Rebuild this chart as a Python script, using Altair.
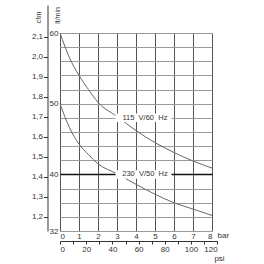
import altair as alt
import pandas as pd

# ---- data ----
bar_pts = [0, 0.5, 1, 1.5, 2, 3, 4, 5, 6, 7, 8]
flow_115 = [60, 56.5, 54.0, 52.0, 50.2, 48.2, 46.2, 44.5, 43.1, 41.9, 40.9]
flow_230 = [50, 46.6, 44.3, 42.8, 41.5, 40.1, 38.6, 37.2, 36.0, 35.1, 34.2]
series_names = ["115\u00a0 V/60\u00a0 Hz", "230\u00a0 V/50\u00a0 Hz"]
label_bar = [4.47, 4.47]
label_flow = [48, 40]

bar_ticks = list(range(0, 9))
flow_grid = list(range(32, 61, 2))
flow_labels = [60, 50, 40, 32]
cfm_ticks = [1.2, 1.3, 1.4, 1.5, 1.6, 1.7, 1.8, 1.9, 2.0, 2.1]
psi_ticks = list(range(0, 121, 10))

LPM_PER_CFM = 28.3168
PSI_PER_BAR = 14.5038

W, H = 152, 198
FONT = "Liberation Sans"
TXT = "#333333"

rows = []
for b, v in zip(bar_pts, flow_115):
    rows.append({"bar": b, "flow": v, "series": series_names[0]})
for b, v in zip(bar_pts, flow_230):
    rows.append({"bar": b, "flow": v, "series": series_names[1]})
curves_df = pd.DataFrame(rows)
labels_df = pd.DataFrame({"text": series_names, "bar": label_bar, "flow": label_flow})

xscale = alt.Scale(domain=[0, 8], nice=False, zero=False)
yscale = alt.Scale(domain=[32, 60], nice=False, zero=False)

grid_color = {"condition": {"test": "datum.value === 40", "value": "#111111"}, "value": "#9a9a9a"}
grid_width = {"condition": {"test": "datum.value === 40", "value": 1.4}, "value": 1}
label_test = " || ".join(f"datum.value == {v}" for v in flow_labels)

x_axis = alt.Axis(values=bar_ticks, tickCount=50, format="d", grid=True, gridColor="#555555", gridWidth=1,
                  labelOverlap=False,
                  domain=False, ticks=False, labelPadding=1, labelFont=FONT,
                  labelFontSize=8, labelColor=TXT, title="bar", titleFont=FONT,
                  titleFontSize=8, titleFontWeight="normal", titleColor=TXT,
                  titleX=157, titleY=4.5, titleAlign="left", titleBaseline="middle")
y_axis = alt.Axis(values=flow_grid, tickCount=50, format="d", grid=True, gridColor=grid_color, gridWidth=grid_width,
                  labelOverlap=False,
                  domain=False, ticks=False, labelPadding=2, labelFont=FONT,
                  labelFontSize=8, labelColor=TXT,
                  labelExpr=f"({label_test}) ? datum.label : ''",
                  title="lt/min", titleFont=FONT, titleFontSize=7, titleFontWeight="normal",
                  titleColor=TXT, titleAngle=-90, titleX=-3, titleY=-18,
                  titleAlign="center", titleBaseline="middle")

curves = alt.Chart(curves_df).mark_line(color="#666666", strokeWidth=1, interpolate="monotone").encode(
    x=alt.X("bar:Q", scale=xscale, axis=x_axis),
    y=alt.Y("flow:Q", scale=yscale, axis=y_axis),
    detail="series:N",
)

bg = alt.Chart(labels_df).transform_calculate(
    x1="datum.bar - 1.55", x2="datum.bar + 1.4", y1="datum.flow - 0.6", y2="datum.flow + 0.6"
).mark_rect(color="white").encode(
    x=alt.X("x1:Q", scale=xscale), x2="x2:Q",
    y=alt.Y("y1:Q", scale=yscale), y2="y2:Q",
)

texts = alt.Chart(labels_df).mark_text(font=FONT, fontSize=7.5, color=TXT, baseline="middle").encode(
    x=alt.X("bar:Q", scale=xscale), y=alt.Y("flow:Q", scale=yscale), text="text:N"
)

main = alt.layer(curves, bg, texts)

# cfm axis (left, offset)
cfm_lo = 32 / LPM_PER_CFM
cfm_hi = 60 / LPM_PER_CFM
px_per_cfm = H / (cfm_hi - cfm_lo)
ext = 28
cfm_top = cfm_hi + ext / px_per_cfm
cfm_df = pd.DataFrame({"cfm": [cfm_lo, cfm_top]})
cfm_layer = alt.Chart(cfm_df).mark_rule(opacity=0).encode(
    y=alt.Y("cfm:Q",
            scale=alt.Scale(domain=[cfm_lo, cfm_top], range=[H, -ext], nice=False, zero=False),
            axis=alt.Axis(orient="left", offset=12.5, values=cfm_ticks, tickCount=50, domain=True,
                          labelOverlap=False,
                          domainColor=TXT, domainWidth=1, ticks=True, tickColor=TXT,
                          tickSize=4, labelPadding=1, labelFont=FONT, labelFontSize=8,
                          labelColor=TXT, grid=False,
                          labelExpr="replace(format(datum.value, '.1f'), '.', ',')",
                          title="cfm", titleFont=FONT, titleFontSize=7.5,
                          titleFontWeight="normal", titleColor=TXT, titleAngle=-90,
                          titleX=-9.5, titleY=-16, titleAlign="center", titleBaseline="middle"))
)

# psi axis (bottom, offset)
psi_max = 120
psi_df = pd.DataFrame({"psi": [0, psi_max]})
psi_layer = alt.Chart(psi_df).mark_rule(opacity=0).encode(
    x=alt.X("psi:Q",
            scale=alt.Scale(domain=[0, psi_max], range=[0, psi_max / (8 * PSI_PER_BAR) * W],
                            nice=False, zero=False),
            axis=alt.Axis(orient="bottom", offset=10, values=psi_ticks, tickCount=50, format="d",
                          domain=True, labelOverlap=False,
                          domainColor=TXT, domainWidth=1, ticks=True, tickColor=TXT,
                          tickSize=3, labelPadding=1, labelFont=FONT, labelFontSize=8,
                          labelColor=TXT, grid=False,
                          labelExpr="datum.value % 20 == 0 ? datum.label : ''",
                          title="psi", titleFont=FONT, titleFontSize=8,
                          titleFontWeight="normal", titleColor=TXT,
                          titleX=159, titleY=17, titleAlign="center", titleBaseline="middle"))
)

chart = alt.layer(main, cfm_layer, psi_layer).resolve_scale(
    x="independent", y="independent"
).properties(
    width=W, height=H,
    autosize=alt.AutoSizeParams(type="none"),
    padding={"left": 60, "top": 33, "right": 52, "bottom": 33},
    background="white",
).configure_view(stroke=None)

chart.save("out.html", embed_options={"renderer": "svg", "actions": False})
